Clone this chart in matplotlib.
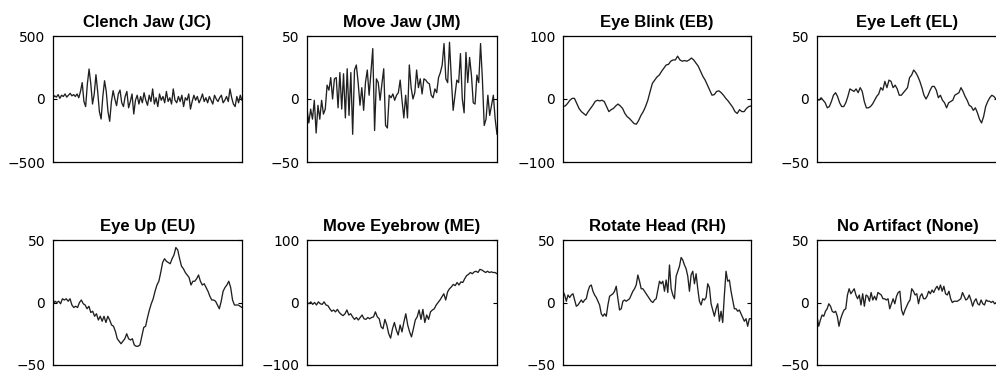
import numpy as np
import matplotlib.pyplot as plt

plt.rcParams['font.family'] = ['Liberation Sans', 'DejaVu Sans']

jc = [10, 25, 15, 35, 5, 30, 20, 40, 15, 30, 45, 25, 35, 20, 40, 10,
      60, 130, -20, -60, 120, 238, 120, -40, 40, 193, 60, -100, -159, 20, 145, 60, -100, -177, -20, 66, 0,
      -53, 40, 71, -30, -60, 20, 60, -70, -20, 40, -119, -10, 30, -40, 20, -30, 50, -10, -50, 30, -20,
      80, -40, 10, -60, 40, -10, 20, -30, 60, -20, 10, -40, 80, -10, -30, 20, -20, 30, -60, 10, -10,
      40, -80, -20, 30, -10, 20, -30, 0, 40, -20, 10, -30, 20, -10, -40, 30, 0, -20, 10, 30, -30, -10,
      20, -20, 80, 10, -40, -60, 20, -30, 30, -10]

jm = [-8, -19, -8, -16, -1, -27, -5, -16, -1, -12, -8, 11, 7, 17, 0, 16, 17, -7, 21, -8, 20, -15, 24,
      -13, 21, -28, 23, 27, 13, -5, 9, -9, 13, 23, 3, 21, 40, -25, 16, 13, -1, 12, 24, -21, -23, 3, 1,
      4, -1, 3, 5, 15, -1, -15, 3, -15, 27, 9, 0, 5, 23, 9, 16, 4, 16, 15, 13, 12, 3, 1, 8, 5, 17, 21,
      27, 44, 16, 13, 45, 16, -9, 3, 15, 13, 36, 0, -11, 37, 13, 33, 19, -3, -4, 19, 13, 44, 16, -21,
      -16, 3, -13, -5, 3, -16, -28]

eb = [-12, -11, -7, -2, 1, 1, -7, -15, -20, -23, -26, -20, -15, -10, -4, -2, -3, -2, -4, -12, -20,
      -17, -15, -11, -8, -11, -15, -23, -28, -31, -35, -39, -40, -34, -26, -20, -12, -2, 12, 25, 30,
      35, 38, 44, 49, 54, 55, 60, 62, 62, 68, 62, 60, 61, 60, 62, 65, 62, 57, 52, 44, 36, 30, 22, 14,
      6, 7, 12, 13, 10, 6, 1, -3, -8, -13, -20, -23, -17, -20, -20, -15, -12, -11]

el = [0, -1, 1, -1, -3, -7, -6, -2, 3, 5, 2, -3, -6, -6, -3, 2, 8, 7, 6, 8, 5, 9, 6, -2, -7, -7,
      -6, -4, -1, 2, 4, 9, 7, 14, 9, 15, 14, 9, 11, 8, 3, 3, 5, 7, 9, 17, 19, 23, 21, 18, 14, 9, 3,
      0, 3, 7, 10, 10, 7, 1, 3, -1, -3, -7, -3, -2, -1, 3, 4, 5, 9, 6, 2, -1, -5, -6, -9, -7, -11,
      -16, -19, -14, -6, -2, 1, 3, 2, 0, 1]

eu = [-2, 1, 0, 1, -1, 3, 2, 3, 1, 3, -2, -4, -3, -4, 0, 2, -1, -2, -5, -3, -8, -7, -11, -9, -14,
      -11, -15, -11, -16, -11, -14, -18, -19, -23, -29, -31, -33, -31, -29, -25, -29, -30, -29, -34,
      -35, -35, -34, -27, -20, -19, -12, -6, -1, 3, 9, 14, 17, 24, 32, 35, 33, 32, 31, 35, 38, 44, 42,
      35, 29, 27, 24, 22, 20, 14, 17, 17, 19, 22, 17, 14, 15, 12, 9, 5, 2, 2, 1, -2, -5, 1, 9, 12, 14,
      17, 12, 2, -2, -2, -2, -3, -4]

me = [0, -2, 1, -3, 0, -4, 1, -2, -3, 1, -4, -5, -10, -14, -12, -15, -11, -16, -19, -21, -18, -12,
      -20, -18, -23, -27, -24, -28, -24, -20, -26, -27, -24, -26, -24, -23, -15, -23, -26, -39, -42,
      -27, -36, -50, -57, -42, -32, -44, -52, -36, -47, -31, -18, -36, -47, -55, -42, -28, -23, -12,
      -27, -11, -32, -20, -27, -15, -12, -10, -4, 0, 4, 9, 14, 4, 17, 22, 25, 29, 27, 32, 28, 33, 32,
      38, 43, 45, 48, 46, 49, 50, 48, 53, 52, 50, 48, 50, 48, 49, 48, 48, 46]

rh = [9, 6, 1, 6, 4, 6, 7, 2, -3, -2, 0, 2, 0, 2, 3, 9, 13, 14, 9, 6, 4, 1, -2, -9, -11, -9, -11,
      -2, 5, 6, 7, 9, 13, 3, -6, -5, 1, 2, 1, 2, 3, 6, 9, 11, 14, 22, 17, 11, 11, 9, 7, 5, 3, 1, 0,
      2, 3, 10, 17, 15, 17, 9, 18, 8, 30, 11, 6, 3, 21, 25, 29, 36, 34, 30, 27, 21, 9, 22, 25, 15, 23,
      11, 1, -2, 3, 2, 4, 15, 12, -1, -6, -11, -5, -1, -15, -7, -16, 6, 25, 17, 18, 9, 2, -5, -5, -7,
      -6, -9, -12, -15, -13, -19, -13, -13]

na = [-11, -19, -14, -10, -11, -7, -5, -1, -3, -7, -8, -7, -11, -19, -13, -9, -6, -5, 6, 11, 7, 9,
      11, 6, 3, 6, -2, 7, -3, 6, 5, 1, 8, 2, 5, 2, 8, 7, 6, 3, 3, 2, 3, -5, -1, 3, -1, 5, 8, 9, -6,
      -10, -6, -3, 0, 2, 11, 9, 6, 7, -1, 5, 7, 3, 3, 5, 9, 7, 10, 8, 11, 13, 10, 14, 9, 13, 7, 6, 9,
      3, 0, 1, 1, 1, 2, 3, 8, 5, 2, 3, 6, 2, -3, 1, 3, -1, -2, 2, -1, -2, 2, 1, 1, 0, 1, -1, 0, -2]

titles = ['Clench Jaw (JC)', 'Move Jaw (JM)', 'Eye Blink (EB)', 'Eye Left (EL)',
          'Eye Up (EU)', 'Move Eyebrow (ME)', 'Rotate Head (RH)', 'No Artifact (None)']
series = [jc, jm, eb, el, eu, me, rh, na]
limits = [500, 50, 100, 50, 50, 100, 50, 50]

W, H = 996, 374
fig = plt.figure(figsize=(W / 100, H / 100), dpi=100)

col_px = [(53, 242), (307, 497), (563, 751), (817, 998)]
row_px = [(36, 162), (240, 365)]

for i in range(8):
    r, c = divmod(i, 4)
    x0, x1 = col_px[c]
    y0, y1 = row_px[r]
    ax = fig.add_axes([x0 / W, 1 - y1 / H, (x1 - x0) / W, (y1 - y0) / H])
    vals = np.array(series[i], dtype=float)
    t = np.linspace(0, 1, len(vals))
    ax.plot(t, vals, color='#202020', lw=0.95)
    lim = limits[i]
    ax.set_xlim(0, 1)
    ax.set_ylim(-lim, lim)
    ax.set_xticks([])
    ax.set_yticks([-lim, 0, lim])
    ax.set_yticklabels(['\u2212%d' % lim, '0', '%d' % lim], family='DejaVu Sans', fontsize=10)
    ax.tick_params(axis='y', direction='in', length=3, width=0.8, right=True,
                   pad=5.5, colors='black')
    for s in ax.spines.values():
        s.set_linewidth(0.9)
        s.set_color('black')
    ax.set_title(titles[i], fontsize=12, fontweight='bold', pad=6.5)

fig.savefig('out.png', dpi=100)
